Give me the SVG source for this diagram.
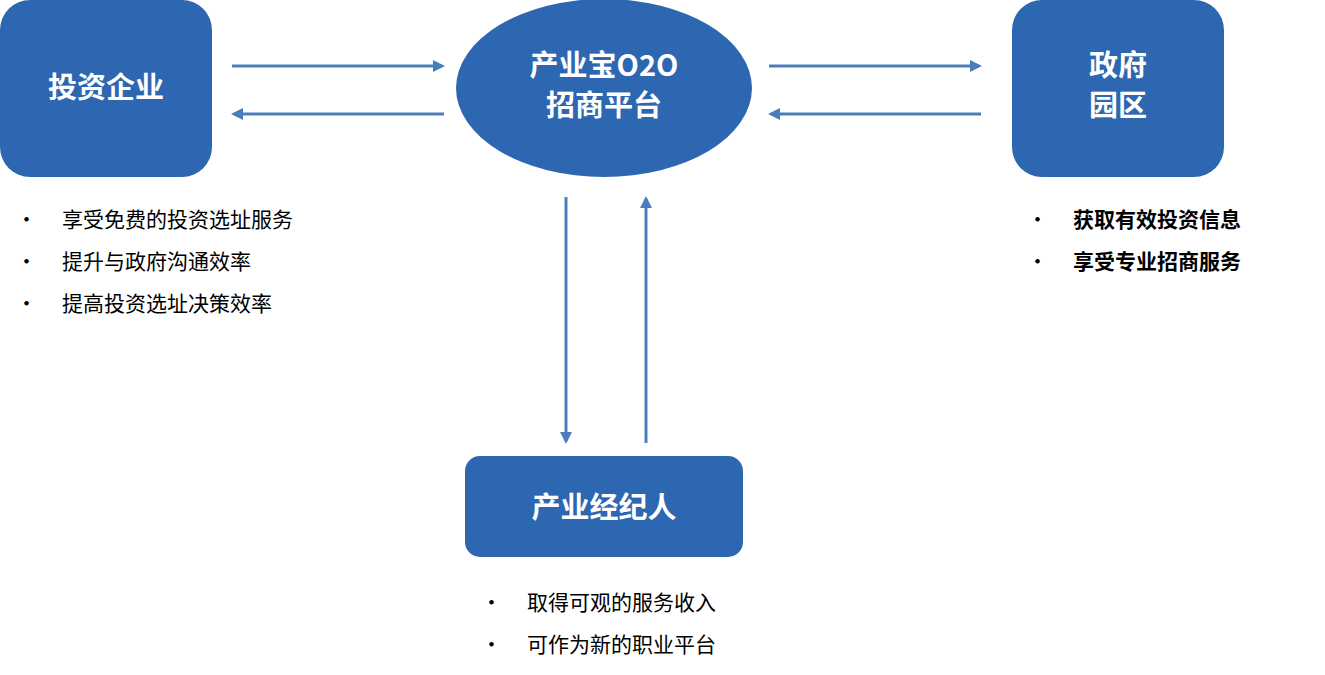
<svg xmlns="http://www.w3.org/2000/svg" width="1325" height="675" viewBox="0 0 1325 675">
<style>
.n{fill:#2E67B1}
.t{fill:#fff;font-family:"Noto Sans CJK SC",sans-serif;font-weight:bold;font-size:29px;text-anchor:middle}
.b{fill:#000;font-family:"Noto Sans CJK SC",sans-serif;font-size:21px}
.bb{font-weight:bold}
.c{stroke:#4A7EBB;stroke-width:3;fill:none;marker-end:url(#a)}
</style>
<defs><marker id="a" markerWidth="4" markerHeight="4" refX="3" refY="2" orient="auto"><path d="M0,0L4,2L0,4z" fill="#4A7EBB"/></marker></defs>
<rect width="1325" height="675" fill="#fff"/>
<g id="connectors">
<line class="c" x1="232" y1="66" x2="442" y2="66"/>
<line class="c" x1="444" y1="114" x2="234" y2="114"/>
<line class="c" x1="769" y1="66" x2="979" y2="66"/>
<line class="c" x1="981" y1="114" x2="771" y2="114"/>
<line class="c" x1="566" y1="197" x2="566" y2="441"/>
<line class="c" x1="646" y1="443" x2="646" y2="199"/>
</g>
<g id="invest"><rect class="n" x="0" y="0" width="212" height="177" rx="30"/><text class="t" x="106" y="98">投资企业</text></g>
<g id="platform"><ellipse class="n" cx="604" cy="88" rx="148" ry="89"/><text class="t" x="604" y="76">产业宝O2O</text><text class="t" x="604" y="116">招商平台</text></g>
<g id="gov"><rect class="n" x="1012" y="0" width="212" height="177" rx="30"/><text class="t" x="1118" y="76">政府</text><text class="t" x="1118" y="116">园区</text></g>
<g id="agent"><rect class="n" x="465" y="456" width="278" height="101" rx="15"/><text class="t" x="604" y="518">产业经纪人</text></g>
<g id="notes" class="b">
<text x="16" y="227">•</text><text x="62" y="227">享受免费的投资选址服务</text>
<text x="16" y="269">•</text><text x="62" y="269">提升与政府沟通效率</text>
<text x="16" y="311">•</text><text x="62" y="311">提高投资选址决策效率</text>
<text x="1027" y="227">•</text><text class="bb" x="1073" y="227">获取有效投资信息</text>
<text x="1027" y="269">•</text><text class="bb" x="1073" y="269">享受专业招商服务</text>
<text x="481" y="610">•</text><text x="527" y="610">取得可观的服务收入</text>
<text x="481" y="652">•</text><text x="527" y="652">可作为新的职业平台</text>
</g>
</svg>
